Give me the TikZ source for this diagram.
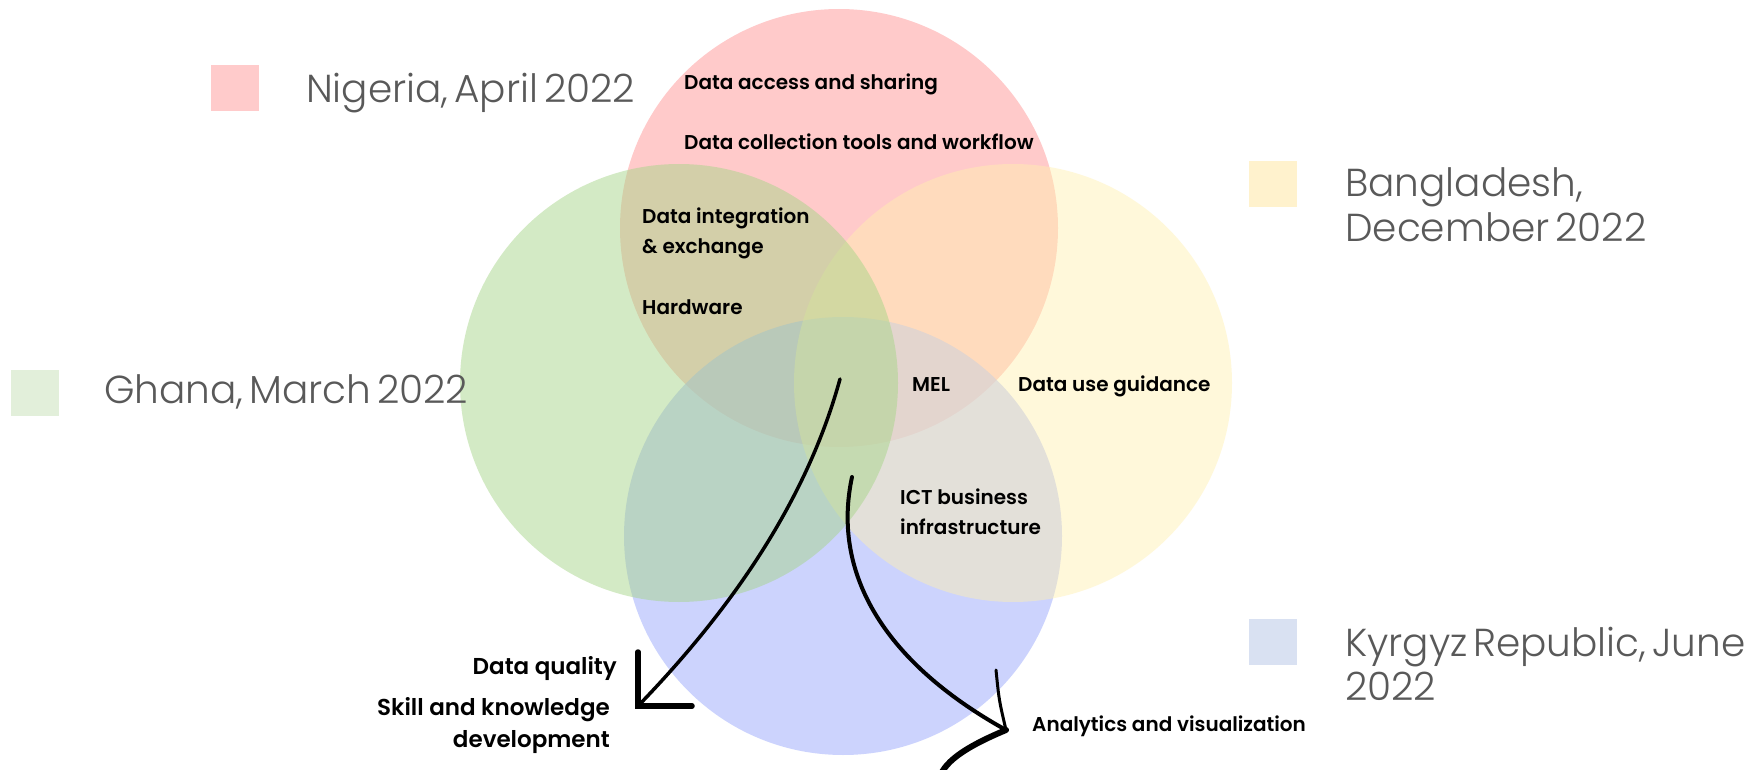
\documentclass[tikz,border=0pt]{standalone}
\usepackage{fontspec}
\setmainfont{Poppins}
\IfFontExistsTF{Poppins Light}{\newfontfamily\legfont{Poppins Light}[WordSpace=0.55]}{\newfontfamily\legfont{Poppins}[WordSpace=0.55]}
\IfFontExistsTF{Poppins SemiBold}{\newfontfamily\labfont{Poppins SemiBold}}{\newfontfamily\labfont{Poppins}[UprightFont=*,BoldFont=*]}
\definecolor{nigeriaC}{RGB}{255,202,202}
\definecolor{kyrgyzC}{RGB}{170,183,253}
\definecolor{bangC}{RGB}{255,241,175}
\definecolor{ghanaC}{RGB}{165,213,134}
\definecolor{legNc}{RGB}{255,203,203}
\definecolor{legBc}{RGB}{255,242,205}
\definecolor{legGc}{RGB}{226,239,218}
\definecolor{legKc}{RGB}{217,225,242}
\definecolor{greyT}{RGB}{89,89,89}
\begin{document}
\begin{tikzpicture}[x=1pt,y=-1pt,
  venn/.style={circle, minimum size=438pt, inner sep=0pt, draw=none},
  legsq/.style={rectangle, minimum width=48pt, minimum height=46pt, inner sep=0pt, draw=none},
  legtext/.style={anchor=base west, inner sep=0pt, text=greyT, font=\legfont\fontsize{39}{45}\selectfont},
  lab/.style={anchor=base west, inner sep=0pt, text=black, font=\labfont\fontsize{20}{30}\selectfont},
  labR/.style={anchor=base east, inner sep=0pt, text=black, font=\labfont\fontsize{23}{32}\selectfont},
  arrowline/.style={draw=black, line width=3.5pt, line cap=round},
  headline/.style={draw=black, line width=5.5pt, line cap=round, line join=miter}]
\useasboundingbox (0,0) rectangle (1762,770);
\fill[white] (0,0) rectangle (1762,770);
% circles
\node[venn, fill=nigeriaC] (cN) at (839,228) {};
\node[venn, fill=kyrgyzC, fill opacity=0.6] (cK) at (843,536) {};
\node[venn, fill=bangC, fill opacity=0.45] (cB) at (1013,383) {};
\node[venn, fill=ghanaC, fill opacity=0.48] (cG) at (679,383) {};
% legend squares
\node[legsq, fill=legNc] (sqN) at (235,88) {};
\node[legsq, fill=legBc] (sqB) at (1273,184) {};
\node[legsq, fill=legGc] (sqG) at (35,393) {};
\node[legsq, fill=legKc] (sqK) at (1273,642) {};
% legend texts
\node[legtext] (legN) at (306,103) {Nigeria, April 2022};
\node[legtext] (legB1) at (1345,197) {Bangladesh,};
\node[legtext] (legB2) at (1345,242) {December 2022};
\node[legtext] (legG) at (104,403) {Ghana, March 2022};
\node[legtext] (legK1) at (1345,656) {Kyrgyz Republic, June};
\node[legtext] (legK2) at (1345,700) {2022};
% labels
\node[lab] (l1) at (684,90) {Data access and sharing};
\node[lab] (l2) at (684,150) {Data collection tools and workflow};
\node[lab] (l3a) at (642,224) {Data integration};
\node[lab] (l3b) at (642,254) {\& exchange};
\node[lab] (l4) at (642,314) {Hardware};
\node[lab] (mel) at (912,391) {MEL};
\node[lab] (dug) at (1018,391) {Data use guidance};
\node[lab] (ict1) at (900,504) {ICT business};
\node[lab] (ict2) at (900,534) {infrastructure};
\node[labR] (dq) at (617,674) {Data quality};
\node[labR] (sk1) at (610,715) {Skill and knowledge};
\node[labR] (sk2) at (610,747) {development};
\node[lab] (av) at (1032,731) {Analytics and visualization};
% arrow 1
\coordinate (a1s) at (840,379);
\coordinate (a1t) at (638,706);
\coordinate (a1h1) at (638,652);
\coordinate (a1h2) at (692,706);
\draw[arrowline] (a1s) .. controls (815,470) and (760,580) .. (a1t);
\draw[headline] (a1h1) -- (a1t) -- (a1h2);
% arrow 2
\coordinate (a2s) at (852,477);
\coordinate (a2t) at (1006,730);
\coordinate (a2h1) at (996,670);
\coordinate (a2h2) at (942,772);
\draw[arrowline, line width=4pt] (a2s) .. controls (832,570) and (880,660) .. (a2t);
\draw[draw=black, line width=3pt, line cap=round] (a2h1) .. controls (999,700) .. (a2t);
\draw[draw=black, line width=6pt, line cap=round] (a2t) .. controls (970,745) and (950,758) .. (a2h2);
\end{tikzpicture}
\end{document}
